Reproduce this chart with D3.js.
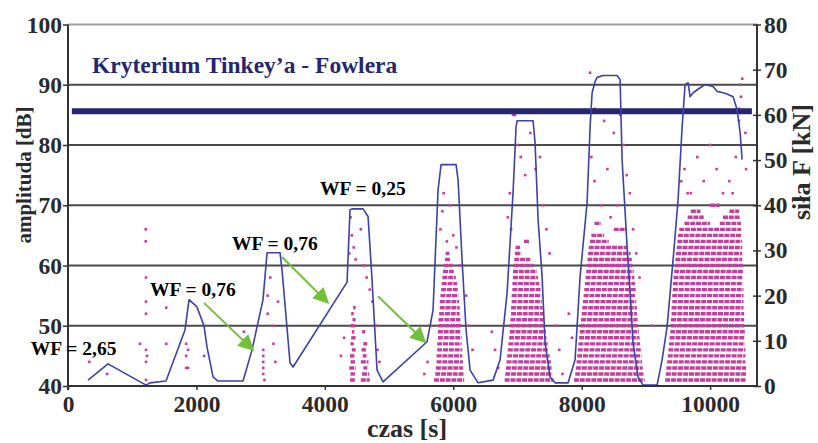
<!DOCTYPE html>
<html>
<head>
<meta charset="utf-8">
<script src="https://cdn.jsdelivr.net/npm/d3@7"></script>
<style>
  body { margin: 0; background: #fff; }
  text { font-family: "Liberation Serif", "Times New Roman", serif; }
</style>
</head>
<body>
<svg id="chart" width="818" height="443"></svg>
<script>
// ---- data ----
var dbTicks = [40, 50, 60, 70, 80, 90, 100];
var kNTicks = [0, 10, 20, 30, 40, 50, 60, 70, 80];
var timeTicks = [0, 2000, 4000, 6000, 8000, 10000];

// force F [kN] against time [s]
var forceT = [312, 623, 1215, 1277, 1526, 1822, 1885, 2009, 2118, 2165, 2259, 2336, 2726, 2866, 3037, 3100, 3302, 3333, 3458, 3505,
  4346, 4392, 4424, 4595, 4673, 4735, 4813, 4906, 5592, 5685, 5763, 5810, 6043, 6075, 6137, 6199, 6262, 6386,
  6620, 6729, 6838, 6931, 6978, 6994, 7243, 7274, 7321, 7383, 7430, 7508, 7586, 7788, 7897, 7975, 8084, 8131, 8162, 8209, 8240, 8333, 8551, 8598, 8629, 8707, 8754, 8800, 8878, 8956,
  9174, 9252, 9330, 9423, 9501, 9564, 9610, 9657, 9688, 9735, 9844, 9922, 10047, 10109, 10202, 10280, 10358, 10420, 10467, 10498];
var forceKN = [1.3, 4.9, 0.2, 0.7, 1.1, 12.4, 19.1, 17.5, 13.3, 8.6, 2.0, 1.1, 1.1, 8.0, 19.1, 29.5, 29.5, 25.7, 5.1, 4.2,
  23.0, 39.0, 39.2, 39.2, 37.5, 23.5, 3.5, 0.9, 9.8, 16.8, 43.4, 49.0, 49.0, 45.6, 27.9, 12.4, 3.5, 0.7,
  1.3, 5.8, 20.6, 42.8, 57.4, 58.7, 58.7, 53.8, 36.8, 24.2, 9.5, 2.0, 0.7, 0.7, 5.8, 24.2, 40.6, 57.4, 64.9, 67.4, 68.3, 68.7, 68.7, 67.8, 50.1, 30.8, 20.6, 9.5, 2.0, 0.2,
  0.2, 5.8, 13.1, 27.9, 41.2, 57.4, 66.7, 67.1, 64.0, 64.9, 66.0, 66.7, 66.3, 65.2, 64.9, 64.5, 64.0, 61.2, 56.1, 50.1];

// acoustic emission hits recorded in rows: [amplitude dB, from t, to t]
var hitRows = [
  // loading ~4500 s
  [41, 4390, 4480], [41, 4560, 4700], [42, 4400, 4470], [42, 4580, 4690], [43, 4380, 4480], [43, 4600, 4660],
  [44, 4400, 4470], [44, 4560, 4680], [45, 4390, 4460], [45, 4590, 4650], [46, 4420, 4480], [46, 4570, 4640],
  [47, 4400, 4450], [47, 4600, 4660], [48, 4410, 4480], [49, 4420, 4460], [49, 4580, 4630], [50, 4400, 4470],
  [51, 4430, 4480], [52, 4410, 4450], [53, 4440, 4480],
  // loading ~6000 s
  [41, 5700, 6170], [42, 5720, 6160], [43, 5730, 6150], [44, 5740, 6150], [45, 5740, 6140], [46, 5750, 6140],
  [47, 5750, 6130], [48, 5760, 6130], [49, 5760, 6120], [50, 5770, 6120], [51, 5770, 6110], [52, 5780, 6100],
  [53, 5790, 6100], [54, 5790, 6090], [55, 5800, 6080], [56, 5810, 6070], [57, 5820, 6060], [58, 5830, 6040],
  [59, 5840, 6020], [60, 5850, 5990], [61, 5870, 5960], [62, 5880, 5940],
  // loading ~7100 s
  [41, 6800, 7560], [42, 6810, 7540], [43, 6820, 7530], [44, 6830, 7520], [45, 6840, 7500], [46, 6850, 7480],
  [47, 6860, 7470], [48, 6870, 7450], [49, 6880, 7440], [50, 6880, 7420], [51, 6890, 7410], [52, 6900, 7400],
  [53, 6900, 7390], [54, 6910, 7380], [55, 6910, 7370], [56, 6920, 7360], [57, 6920, 7340], [58, 6930, 7320],
  [59, 6930, 7300], [60, 6940, 7250], [61, 6950, 7200], [62, 6960, 7060], [63, 6970, 7040], [64, 7100, 7180],
  // loading ~8300 s
  [41, 7880, 8980], [42, 7900, 8960], [43, 7910, 8950], [44, 7920, 8940], [45, 7930, 8930], [46, 7940, 8920],
  [47, 7950, 8910], [48, 7960, 8900], [49, 7970, 8890], [50, 7980, 8880], [51, 7990, 8870], [52, 8000, 8860],
  [53, 8010, 8860], [54, 8020, 8850], [55, 8030, 8840], [56, 8040, 8840], [57, 8050, 8830], [58, 8060, 8820],
  [59, 8070, 8810], [60, 8080, 8800], [61, 8090, 8780], [62, 8100, 8760], [63, 8110, 8700], [64, 8130, 8420],
  [65, 8150, 8350], [66, 8500, 8700], [67, 8200, 8300],
  // loading ~10000 s
  [41, 9300, 10560], [42, 9310, 10560], [43, 9320, 10560], [44, 9330, 10550], [45, 9340, 10550], [46, 9350, 10550],
  [47, 9360, 10540], [48, 9370, 10540], [49, 9380, 10540], [50, 9390, 10530], [51, 9390, 10530], [52, 9400, 10530],
  [53, 9400, 10520], [54, 9410, 10520], [55, 9410, 10520], [56, 9420, 10520], [57, 9420, 10510], [58, 9430, 10510],
  [59, 9440, 10510], [60, 9450, 10510], [61, 9460, 10500], [62, 9470, 10500], [63, 9480, 10500], [64, 9490, 10500],
  [65, 9500, 10490], [66, 9520, 10480], [67, 9600, 10000], [67, 10150, 10480], [68, 9650, 9900], [68, 10200, 10460],
  [69, 9700, 9850], [69, 10300, 10450], [70, 10000, 10150]
];

// single hits: [t, dB]
var hitT = [330, 610, 1120, 1210, 1210, 1215, 1215, 1215, 1215, 1230, 1215, 1215, 1530, 1530, 1840, 1840, 1840, 1870, 1870, 2120,
  2740, 2730, 3040, 3040, 3040, 3040, 3040, 3060, 3110, 3110, 3270, 3180, 3200, 3150, 3230,
  4250, 4300, 4380, 4400, 4420, 4450, 4480, 4560, 4600, 4650, 4700, 4800, 4820, 4850, 4740,
  5550, 5600, 5650, 5800, 5830, 5850, 5900, 5950, 6000, 6050, 6100, 6200, 6230, 6300,
  6600, 6650, 6700, 6850, 6880, 6900, 6930, 6960, 7000, 7050, 7120, 7200, 7280, 7350, 7400, 7450, 7500, 7600, 7650, 7700,
  7800, 7850, 8130, 8150, 8200, 8200, 8300, 8350, 8400, 8450, 8500, 8550, 8600, 8650, 8700, 8750, 8800, 8850, 8900,
  9100, 9500, 9550, 9600, 9650, 9700, 9800, 9900, 10000, 10100, 10200, 10300, 10350, 10400, 10450, 10450, 10470, 10480, 10500, 10550, 10560];
var hitDB = [44, 42, 47, 66, 64, 58, 54, 52, 46, 45, 44, 41, 53, 47, 47, 45, 43, 46, 43, 45,
  49, 47, 46, 45, 44, 43, 42, 41, 55, 52, 54, 50, 47, 58, 44,
  45, 48, 62, 68, 65, 63, 61, 66, 60, 58, 56, 50, 46, 44, 54,
  42, 44, 50, 66, 69, 72, 64, 70, 65, 63, 60, 55, 50, 46,
  49, 46, 43, 68, 72, 66, 85, 85, 80, 78, 75, 82, 76, 78, 70, 66, 62, 50, 46, 42,
  52, 48, 92, 78, 86, 74, 70, 84, 76, 68, 82, 70, 85, 80, 75, 72, 66, 62, 58,
  50, 70, 74, 76, 72, 72, 78, 74, 80, 76, 72, 74, 72, 78, 84, 86, 90, 88, 91, 82, 76];

var criterionDB = 85.6;
var criterionSpan = [60, 10650];

var notes = [
  { label: 'WF = 2,65', t: -580, db: 45.1 },
  { label: 'WF = 0,76', t: 1277, db: 54.9 },
  { label: 'WF = 0,76', t: 2554, db: 62.6 },
  { label: 'WF = 0,25', t: 3925, db: 71.7 }
];
var arrows = [
  { t0: 2118, db0: 53.8, t1: 2882, db1: 46.0 },
  { t0: 3333, db0: 61.4, t1: 4050, db1: 53.8 },
  { t0: 4829, db0: 54.9, t1: 5561, db1: 47.3 }
];

// ---- drawing ----
document.addEventListener('DOMContentLoaded', function () {
    drawChart();
});

function drawChart() {
    const svg = d3.select('#chart');
    const left = 68, right = 757, top = 24.5, bottom = 386;
    const serif = '"Liberation Serif", "Times New Roman", serif';

    const x = d3.scaleLinear().domain([0, 10730]).range([left, right]);
    const yL = d3.scaleLinear().domain([40, 100]).range([bottom, top]);
    const yR = d3.scaleLinear().domain([0, 80]).range([bottom, top]);

    svg.append('rect').attr('width', 818).attr('height', 443).attr('fill', '#fff');

    // grid
    svg.append('g').selectAll('line')
        .data(dbTicks.filter(d => d > 40))
        .enter().append('line')
        .attr('x1', left).attr('x2', right)
        .attr('y1', d => yL(d)).attr('y2', d => yL(d))
        .attr('stroke', d => d == 100 ? '#a0a0a0' : '#4a4a4a')
        .attr('stroke-width', 2);

    // AE hits
    const pink = '#c4409c';
    svg.append('g').selectAll('line')
        .data(hitRows)
        .enter().append('line')
        .attr('x1', d => x(d[1])).attr('x2', d => x(d[2]))
        .attr('y1', d => yL(d[0])).attr('y2', d => yL(d[0]))
        .attr('stroke', pink)
        .attr('stroke-width', 3.4)
        .attr('stroke-dasharray', '5,0.8');

    svg.append('g').selectAll('rect')
        .data(hitT)
        .enter().append('rect')
        .attr('x', (d) => x(d) - 1.3)
        .attr('y', (d, i) => yL(hitDB[i]) - 1.3)
        .attr('width', 2.6).attr('height', 2.6)
        .attr('fill', pink);

    // criterion line
    svg.append('line')
        .attr('x1', x(criterionSpan[0])).attr('x2', x(criterionSpan[1]))
        .attr('y1', yL(criterionDB)).attr('y2', yL(criterionDB))
        .attr('stroke', '#252570').attr('stroke-width', 6);

    // force
    const line = d3.line()
        .x((d, i) => x(forceT[i]))
        .y(d => yR(d));
    svg.append('path')
        .datum(forceKN)
        .attr('d', line)
        .attr('fill', 'none')
        .attr('stroke', '#3c42a6')
        .attr('stroke-width', 1.6)
        .attr('stroke-linejoin', 'round');

    // axes
    const axisCol = '#333';
    svg.append('line').attr('x1', left).attr('x2', left).attr('y1', top).attr('y2', bottom + 4)
        .attr('stroke', axisCol).attr('stroke-width', 2);
    svg.append('line').attr('x1', left).attr('x2', right).attr('y1', bottom).attr('y2', bottom)
        .attr('stroke', axisCol).attr('stroke-width', 2);
    svg.append('line').attr('x1', right).attr('x2', right).attr('y1', top).attr('y2', bottom)
        .attr('stroke', axisCol).attr('stroke-width', 2);

    const gl = svg.append('g').attr('transform', `translate(${left},0)`)
        .call(d3.axisLeft(yL).tickValues(dbTicks).tickSize(5).tickPadding(1));
    const gb = svg.append('g').attr('transform', `translate(0,${bottom})`)
        .call(d3.axisBottom(x).tickValues(timeTicks).tickFormat(d3.format('d')).tickSize(4).tickPadding(5));
    const gr = svg.append('g').attr('transform', `translate(${right},0)`)
        .call(d3.axisRight(yR).tickValues(kNTicks).tickSize(4).tickPadding(3));
    gr.selectAll('.tick line').attr('x1', -4);

    [gl, gb, gr].forEach(g => {
        g.attr('font-family', null);
        g.select('.domain').remove();
        g.selectAll('.tick line').attr('stroke', axisCol).attr('stroke-width', 1.5);
        g.selectAll('.tick text')
            .style('font-family', serif)
            .style('font-weight', 'bold')
            .attr('font-size', 23.5)
            .attr('fill', '#2a2a2a');
    });
    gb.selectAll('.tick text').attr('dy', '0.72em');

    // axis titles
    svg.append('text')
        .attr('transform', 'translate(31,175) rotate(-90)')
        .attr('text-anchor', 'middle')
        .style('font-family', serif)
        .attr('font-size', 21).attr('font-weight', 'bold').attr('fill', '#2a2a2a')
        .text('amplituda [dB]');
    svg.append('text')
        .attr('transform', 'translate(810,162) rotate(-90)')
        .attr('text-anchor', 'middle')
        .style('font-family', serif)
        .attr('font-size', 26).attr('font-weight', 'bold').attr('fill', '#2a2a2a')
        .text('siła F [kN]');
    svg.append('text')
        .attr('x', 407).attr('y', 437)
        .attr('text-anchor', 'middle')
        .style('font-family', serif)
        .attr('font-size', 26).attr('font-weight', 'bold').attr('fill', '#2a2a2a')
        .text('czas [s]');

    // title
    svg.append('text')
        .attr('x', 92).attr('y', 73)
        .style('font-family', serif)
        .attr('font-size', 23.5).attr('font-weight', 'bold').attr('fill', '#262670')
        .text('Kryterium Tinkey’a - Fowlera');

    // WF notes
    svg.append('g').selectAll('text')
        .data(notes)
        .enter().append('text')
        .attr('x', d => x(d.t)).attr('y', d => yL(d.db))
        .style('font-family', serif)
        .attr('font-size', 19.5).attr('font-weight', 'bold').attr('fill', '#000')
        .text(d => d.label);

    // arrows
    const green = '#72bf3c';
    svg.append('defs').append('marker')
        .attr('id', 'head')
        .attr('viewBox', '0 0 10 10')
        .attr('refX', 9).attr('refY', 5)
        .attr('markerWidth', 16).attr('markerHeight', 16)
        .attr('markerUnits', 'userSpaceOnUse')
        .attr('orient', 'auto')
        .append('path').attr('d', 'M0,0 L10,5 L0,10 Z').attr('fill', green);
    svg.append('g').selectAll('line')
        .data(arrows)
        .enter().append('line')
        .attr('x1', d => x(d.t0)).attr('y1', d => yL(d.db0))
        .attr('x2', d => x(d.t1)).attr('y2', d => yL(d.db1))
        .attr('stroke', green).attr('stroke-width', 2)
        .attr('marker-end', 'url(#head)');
}
</script>
</body>
</html>
